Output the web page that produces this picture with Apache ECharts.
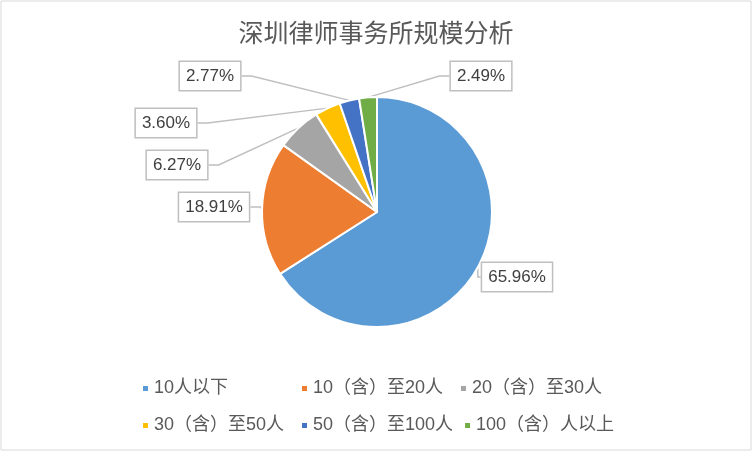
<!DOCTYPE html>
<html>
<head>
<meta charset="utf-8">
<script src="https://cdn.jsdelivr.net/npm/echarts@6/dist/echarts.min.js"></script>
<style>
  html, body { margin: 0; padding: 0; background: #fff; }
  #main { width: 752px; height: 452px; }
</style>
</head>
<body>
<div id="main"></div>
<script>
// 深圳律师事务所规模分析
const titleText = '深圳律师事务所规模分析';
const categories = ['10人以下', '10（含）至20人', '20（含）至30人', '30（含）至50人', '50（含）至100人', '100（含）人以上'];
const shares = [65.96, 18.91, 6.27, 3.60, 2.77, 2.49];
const colors = ['#5B9BD5', '#ED7D31', '#A5A5A5', '#FFC000', '#4472C4', '#70AD47'];

// where each callout box sits (box centre)
const labelSpots = [[517, 277], [214, 207], [177, 165], [166, 123], [210, 76], [481, 76]];

const textFont = "'Liberation Sans', 'Noto Sans CJK SC', sans-serif";

const chart = echarts.init(document.getElementById('main'), null, { renderer: 'canvas' });

const data = categories.map((name, i) => ({
  name: name,
  value: shares[i],
  itemStyle: { color: colors[i] }
}));

chart.setOption({
  animation: false,
  backgroundColor: '#fff',
  title: {
    text: titleText,
    left: 'center',
    top: 15,
    textStyle: {
      fontFamily: "'Noto Sans CJK SC', sans-serif",
      fontSize: 25,
      fontWeight: 'normal',
      color: '#595959'
    }
  },
  legend: {
    left: 141,
    top: 375,
    width: 490,
    padding: 0,
    orient: 'horizontal',
    itemWidth: 7,
    itemHeight: 7,
    itemGap: 10,
    icon: 'rect',
    textStyle: {
      fontFamily: textFont,
      fontSize: 18,
      color: '#595959',
      width: 136,
      lineHeight: 27
    },
    data: categories
  },
  graphic: [{
    type: 'rect',
    shape: { x: 1, y: 1, width: 750, height: 449 },
    style: { fill: 'none', stroke: '#d9d9d9', lineWidth: 1 },
    silent: true
  }],
  series: [{
    type: 'pie',
    center: [377, 212],
    radius: 115,
    startAngle: 90,
    clockwise: true,
    avoidLabelOverlap: false,
    itemStyle: { borderColor: '#fff', borderWidth: 2 },
    label: {
      show: true,
      formatter: p => p.value.toFixed(2) + '%',
      fontFamily: textFont,
      fontSize: 17,
      lineHeight: 18,
      color: '#404040',
      backgroundColor: '#fff',
      borderColor: '#bfbfbf',
      borderWidth: 1.5,
      padding: [5, 6]
    },
    labelLine: {
      show: true,
      length: 10,
      length2: 10,
      lineStyle: { color: '#bfbfbf', width: 1.5 }
    },
    labelLayout: p => {
      const s = labelSpots[p.dataIndex];
      return { x: s[0], y: s[1], align: 'center', verticalAlign: 'middle' };
    },
    emphasis: { disabled: true },
    data: data
  }]
});
</script>
</body>
</html>
